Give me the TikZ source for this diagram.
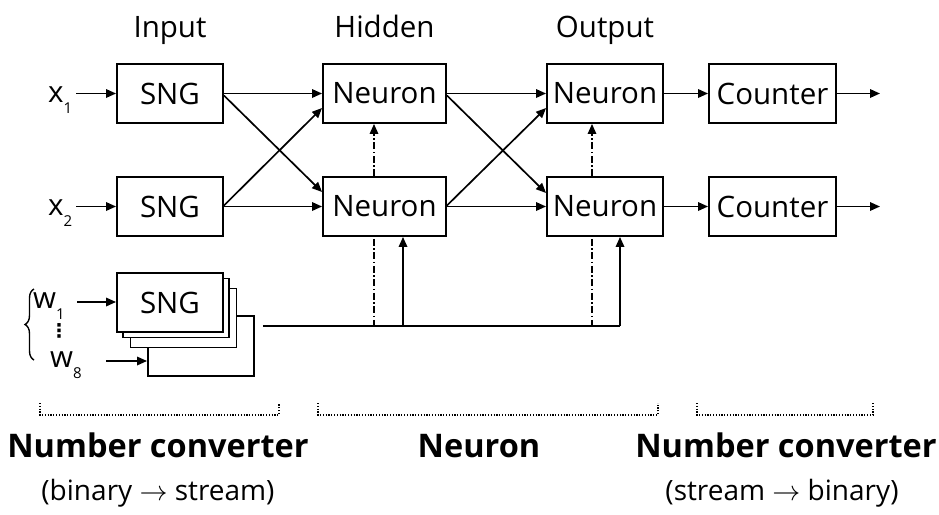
\RequirePackage{fix-cm}
\documentclass[tikz,border=0pt]{standalone}
\usepackage{fontspec}
\setmainfont{Open Sans}
\newfontfamily\symfont{DejaVu Sans}
\usetikzlibrary{arrows.meta,decorations.pathreplacing}
\begin{document}
\begin{tikzpicture}[x=1pt,y=-1pt,
  box/.style={draw,line width=1.9pt,minimum height=59pt,inner sep=0pt,fill=white,
    font=\fontsize{29.5}{29.5}\selectfont},
  lbl/.style={inner sep=0pt,font=\fontsize{29.5}{29.5}\selectfont},
  tip/.style={-{Triangle[length=10pt,width=8.5pt]}},
  arr/.style={line width=1.7pt,tip},
  ln/.style={line width=1.7pt},
  dashdot/.style={line width=1.6pt,dash pattern=on 7pt off 2.5pt on 1.5pt off 2.5pt},
  dotbr/.style={line width=1.6pt,dash pattern=on 1.2pt off 1.6pt},
  big/.style={inner sep=0pt,anchor=base,font=\bfseries\fontsize{32.5}{32.5}\selectfont},
  sub/.style={inner sep=0pt,anchor=base,font=\fontsize{28}{28}\selectfont}]
\useasboundingbox (0,0) rectangle (939,514);
\newcommand{\lowidx}[1]{\raisebox{-11pt}{\fontsize{15}{15}\selectfont #1}}

% titles
\node[lbl,anchor=base] (tin) at (170,37) {Input};
\node[lbl,anchor=base] (thid) at (384.5,37) {Hidden};
\node[lbl,anchor=base] (tout) at (605,37) {Output};

% input SNGs
\node[box,minimum width=106pt] (s1) at (170,93.5) {SNG};
\node[box,minimum width=106pt] (s2) at (170,206.5) {SNG};

% hidden neurons
\node[box,minimum width=123pt] (h1) at (384.5,93.5) {Neuron};
\node[box,minimum width=123pt] (h2) at (384.5,206.5) {Neuron};

% output neurons
\node[box,minimum width=116pt] (o1) at (605,93.5) {Neuron};
\node[box,minimum width=116pt] (o2) at (605,206.5) {Neuron};

% counters
\node[box,minimum width=127pt] (c1) at (772.5,93.5) {Counter};
\node[box,minimum width=127pt] (c2) at (772.5,206.5) {Counter};
\coordinate (e1) at (880,93.5);
\coordinate (e2) at (880,206.5);

% stacked weight SNGs
\node[box,minimum width=106pt,minimum height=60pt] (w4) at (201,346) {};
\node[box,minimum width=106pt] (w3) at (183.5,318) {};
\node[box,minimum width=106pt] (w2) at (176,308) {};
\node[box,minimum width=106pt] (w1) at (170,302.5) {SNG};

% input labels
\node[lbl,anchor=base west] (x1) at (48,102) {x\lowidx{1}};
\node[lbl,anchor=base west] (x2) at (48,215) {x\lowidx{2}};
\node[lbl,anchor=base west] (wl1) at (33,308) {w\lowidx{1}};
\node[lbl,anchor=base west] (wl8) at (50,367) {w\lowidx{8}};
\node[inner sep=0pt,font=\symfont\bfseries\fontsize{19}{19}\selectfont] (vd) at (59,331) {⋮};
\draw[line width=1.4pt,decorate,decoration={brace,amplitude=9pt}] (34,360) -- (34,289);

\coordinate (ax1) at (76,93.5);
\coordinate (ax2) at (76,206.5);
\coordinate (aw1) at (77,302);
\coordinate (aw8) at (106,361);
\draw[arr] (ax1) -- (s1.west);
\draw[arr] (ax2) -- (s2.west);
\draw[arr] (aw1) -- (aw1 -| w1.west);
\draw[arr] (aw8) -- (aw8 -| w4.west);

% input -> hidden
\draw[arr] (s1.east) -- (h1.west);
\draw[arr] (s2.east) -- (h2.west);
\draw[arr] ([yshift=-2pt]s1.east) -- ([yshift=14.5pt]h2.west);
\draw[arr] ([yshift=1pt]s2.east) -- ([yshift=-14.5pt]h1.west);

% hidden -> output
\draw[arr] (h1.east) -- (o1.west);
\draw[arr] (h2.east) -- (o2.west);
\draw[arr] ([yshift=-2pt]h1.east) -- ([yshift=13.5pt]o2.west);
\draw[arr] ([yshift=1pt]h2.east) -- ([yshift=-14.5pt]o1.west);

% output -> counter -> out
\draw[arr] (o1.east) -- (c1.west);
\draw[arr] (o2.east) -- (c2.west);
\draw[arr] (c1.east) -- (e1);
\draw[arr] (c2.east) -- (e2);

% dash-dot links between neurons
\coordinate (dh) at (374,326);
\coordinate (doo) at (592,326);
\draw[dashdot,tip] (dh |- h2.north) -- (dh |- h1.south);
\draw[dashdot,tip] (doo |- o2.north) -- (doo |- o1.south);
\draw[dashdot] ([yshift=-2pt]dh |- h2.south) -- (dh);
\draw[dashdot] ([yshift=-2pt]doo |- o2.south) -- (doo);

% weight bus
\coordinate (bh) at (403,326);
\coordinate (bo) at (620,326);
\draw[ln] ([xshift=8pt]w4.east |- bo) -- (bo);
\draw[arr] (bh) -- (bh |- h2.south);
\draw[arr] (bo) -- (bo |- o2.south);

% dotted brackets
\draw[dotbr] (40,403) -- (40,415) -- (279,415) -- (279,403);
\draw[dotbr] (318,403) -- (318,415) -- (658,415) -- (658,403);
\draw[dotbr] (697,403) -- (697,415) -- (873,415) -- (873,403);

% bottom captions
\node[big] (nc1) at (158,457) {Number converter};
\node[big] (nn) at (479,457) {Neuron};
\node[big] (nc2) at (786,457) {Number converter};
\node[sub] (bs) at (158,500) {(binary $\rightarrow$ stream)};
\node[sub] (sb) at (782,500) {(stream $\rightarrow$ binary)};
\end{tikzpicture}
\end{document}
